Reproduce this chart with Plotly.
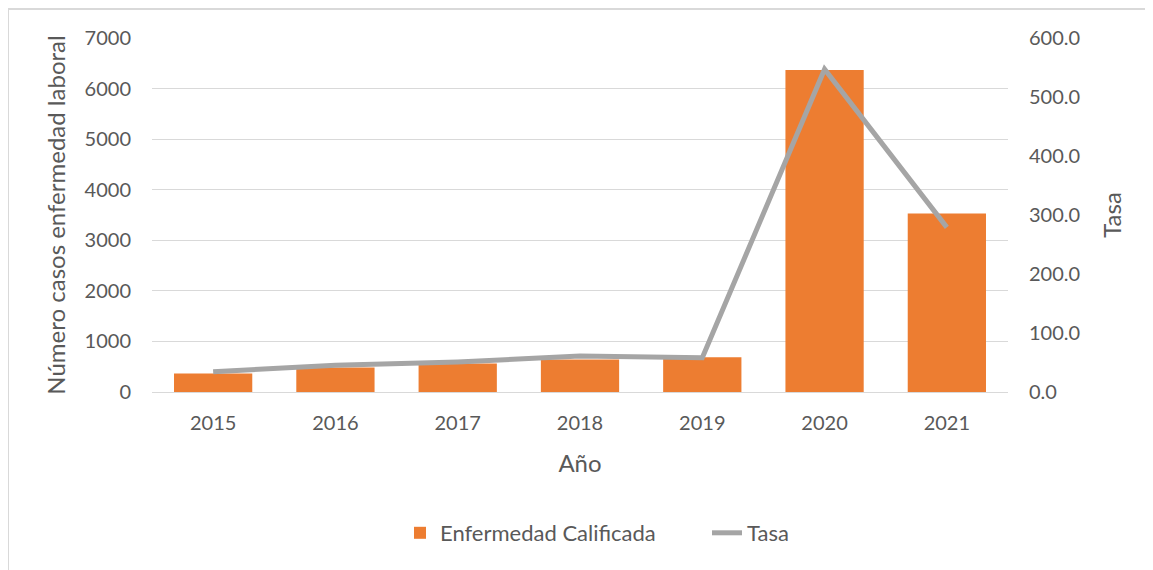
import plotly.graph_objects as go

years = ["2015", "2016", "2017", "2018", "2019", "2020", "2021"]
casos = [364, 483, 562, 641, 686, 6367, 3528]
tasa = [34.4, 45.5, 51.0, 61.0, 58.0, 547.0, 279.0]

left_ticks = [0, 1000, 2000, 3000, 4000, 5000, 6000, 7000]
right_ticks = [0, 100, 200, 300, 400, 500, 600]

# page has an 8px body margin; figure coordinates are page - 8
W, H = 1145, 562
ml, mr, mt, mb = 144, 145, 30, 178
pw, ph = W - ml - mr, H - mt - mb

font = "Lato, 'Open Sans', sans-serif"
tc = "#595959"


def px(x):  # page x -> paper x
    return (x - 8 - ml) / pw


def py(y):  # page y -> paper y
    return (mt + ph - (y - 8)) / ph


fig = go.Figure()
fig.add_trace(go.Bar(x=years, y=casos, name="Enfermedad Calificada",
                     marker=dict(color="#ED7D31", line=dict(width=0))))
fig.add_trace(go.Scatter(x=years, y=tasa, name="Tasa", yaxis="y2", mode="lines",
                         line=dict(color="#A5A5A5", width=5)))

fig.update_layout(
    width=W, height=H,
    margin=dict(l=ml, r=mr, t=mt, b=mb),
    paper_bgcolor="white", plot_bgcolor="white",
    font=dict(family=font, color=tc, size=20),
    bargap=0.36,
    showlegend=True,
    legend=dict(orientation="h", x=px(400), xanchor="left",
                y=py(533), yanchor="middle", entrywidth=262,
                font=dict(size=22, color=tc), traceorder="normal"),
    xaxis=dict(showgrid=False, showline=True, linecolor="#D9D9D9", linewidth=1,
               ticks="", tickfont=dict(size=20, color=tc), ticklabelstandoff=13,
               title=dict(text="Año", font=dict(size=24, color=tc), standoff=22)),
    yaxis=dict(range=[0, 7000], tickvals=left_ticks, ticktext=[str(v) for v in left_ticks],
               showgrid=True, gridcolor="#D9D9D9", gridwidth=1, zeroline=False,
               showline=False, ticks="", tickfont=dict(size=20, color=tc),
               ticklabelstandoff=20,
               title=dict(text="Número casos enfermedad laboral", font=dict(size=24, color=tc), standoff=12)),
    yaxis2=dict(range=[0, 600], tickvals=right_ticks, ticktext=[f"{v:.1f}" for v in right_ticks],
                overlaying="y", side="right", showgrid=False, zeroline=False,
                ticks="", tickfont=dict(size=20, color=tc), ticklabelstandoff=20,
                title=dict(text="Tasa", font=dict(size=24, color=tc), standoff=25)),
)

# outer chart border (only left and top edges visible)
fig.add_shape(type="line", xref="paper", yref="paper", x0=px(8), x1=px(1160), y0=py(9), y1=py(9),
              line=dict(color="#D9D9D9", width=2), layer="below")
fig.add_shape(type="line", xref="paper", yref="paper", x0=px(8), x1=px(8), y0=py(9), y1=py(580),
              line=dict(color="#D9D9D9", width=2), layer="below")

fig.write_html("out.html")
